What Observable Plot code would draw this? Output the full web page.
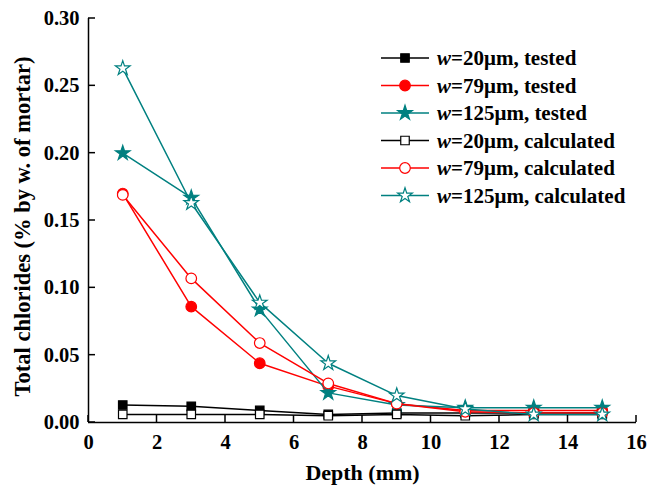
<!DOCTYPE html>
<html><head><meta charset="utf-8">
<script src="https://cdn.jsdelivr.net/npm/d3@7"></script>
<script src="https://cdn.jsdelivr.net/npm/@observablehq/plot@0.6"></script>
<style>body{margin:0;background:#fff}</style>
</head><body><div id="chart"></div>
<script>
const depth = [1, 3, 5, 7, 9, 11, 13, 15];
const w20Tested  = [0.013, 0.012, 0.009, 0.006, 0.007, 0.007, 0.007, 0.007];
const w79Tested  = [0.170, 0.086, 0.044, 0.027, 0.014, 0.009, 0.009, 0.009];
const w125Tested = [0.200, 0.167, 0.084, 0.022, 0.013, 0.011, 0.011, 0.011];
const w20Calc    = [0.006, 0.006, 0.006, 0.005, 0.006, 0.005, 0.006, 0.006];
const w79Calc    = [0.169, 0.107, 0.059, 0.029, 0.014, 0.008, 0.007, 0.007];
const w125Calc   = [0.263, 0.163, 0.089, 0.044, 0.020, 0.010, 0.006, 0.006];
const seriesNames = ["20μm, tested", "79μm, tested", "125μm, tested", "20μm, calculated", "79μm, calculated", "125μm, calculated"];
const xTicks = [0, 2, 4, 6, 8, 10, 12, 14, 16];
const yTicks = [0, 0.05, 0.10, 0.15, 0.20, 0.25, 0.30];

const styles = [
  {color: "#000000", symbol: "square", filled: true, r: 4.8},
  {color: "#ff0000", symbol: "circle", filled: true, r: 5.3},
  {color: "#008080", symbol: "star", filled: true, r: 4.6},
  {color: "#000000", symbol: "square", filled: false, r: 4.8},
  {color: "#ff0000", symbol: "circle", filled: false, r: 5.3},
  {color: "#008080", symbol: "star", filled: false, r: 4.6}
];
const allValues = [w20Tested, w79Tested, w125Tested, w20Calc, w79Calc, w125Calc];
const series = seriesNames.map((name, i) => ({
  name, ...styles[i],
  data: depth.map((d, j) => ({x: d, y: allValues[i][j]}))
}));

const marks = [];
for (const s of series) {
  marks.push(Plot.line(s.data, {x: "x", y: "y", stroke: s.color, strokeWidth: 1.5}));
  marks.push(Plot.dot(s.data, {x: "x", y: "y", symbol: s.symbol, r: s.r,
    fill: s.filled ? s.color : "white", stroke: s.color, strokeWidth: 1.2}));
}

const chart = Plot.plot({
  width: 650, height: 495,
  marginLeft: 88, marginRight: 14, marginTop: 18, marginBottom: 73,
  style: {fontFamily: "'Liberation Serif', 'Times New Roman', serif", fontWeight: "bold", background: "white", color: "black"},
  x: {domain: [0, 16]},
  y: {domain: [0, 0.30]},
  marks: [
    Plot.axisX({ticks: xTicks, tickSize: 0, tickPadding: 12, fontSize: 20.5, label: null, tickFormat: d => d}),
    Plot.axisY({ticks: yTicks, tickSize: 0, tickPadding: 9, fontSize: 20.5, label: null, tickFormat: d3.format(".2f")}),
    Plot.text(["Depth (mm)"], {frameAnchor: "bottom", dy: 57, fontSize: 22, fontWeight: "bold"}),
    Plot.text(["Total chlorides (% by w. of mortar)"], {frameAnchor: "left", textAnchor: "middle", dx: -66, dy: 6, rotate: -90, fontSize: 22.5, fontWeight: "bold"}),
    ...marks,
    Plot.ruleX([0], {strokeWidth: 1.5}),
    Plot.ruleY([0], {strokeWidth: 1.5})
  ]
});

const svg = d3.select(chart);
const xs = chart.scale("x"), ys = chart.scale("y");
const g = svg.append("g").attr("stroke", "black").attr("stroke-width", 1.5);
for (const t of xTicks) {
  const px = xs.apply(t), py = ys.apply(0);
  g.append("line").attr("x1", px).attr("x2", px).attr("y1", py).attr("y2", py - 7);
}
for (const t of yTicks) {
  const px = xs.apply(0), py = ys.apply(t);
  g.append("line").attr("x1", px).attr("x2", px + 7).attr("y1", py).attr("y2", py);
}

// legend
const symMap = {square: d3.symbolSquare, circle: d3.symbolCircle, star: d3.symbolStar};
const lg = svg.append("g").attr("font-size", 21).attr("font-weight", "bold").attr("text-anchor", "start");
series.forEach((s, i) => {
  const y = 58 + i * 27.5;
  lg.append("line").attr("x1", 381).attr("x2", 429).attr("y1", y).attr("y2", y)
    .attr("stroke", s.color).attr("stroke-width", 1.5);
  lg.append("path").attr("transform", `translate(405,${y})`)
    .attr("d", d3.symbol(symMap[s.symbol], Math.PI * s.r * s.r)())
    .attr("fill", s.filled ? s.color : "white").attr("stroke", s.color).attr("stroke-width", 1.2);
  const t = lg.append("text").attr("x", 437).attr("y", y).attr("dy", "0.35em");
  t.append("tspan").attr("font-style", "italic").text("w");
  t.append("tspan").text("=" + s.name);
});

document.getElementById("chart").appendChild(chart);
</script>
</body></html>
